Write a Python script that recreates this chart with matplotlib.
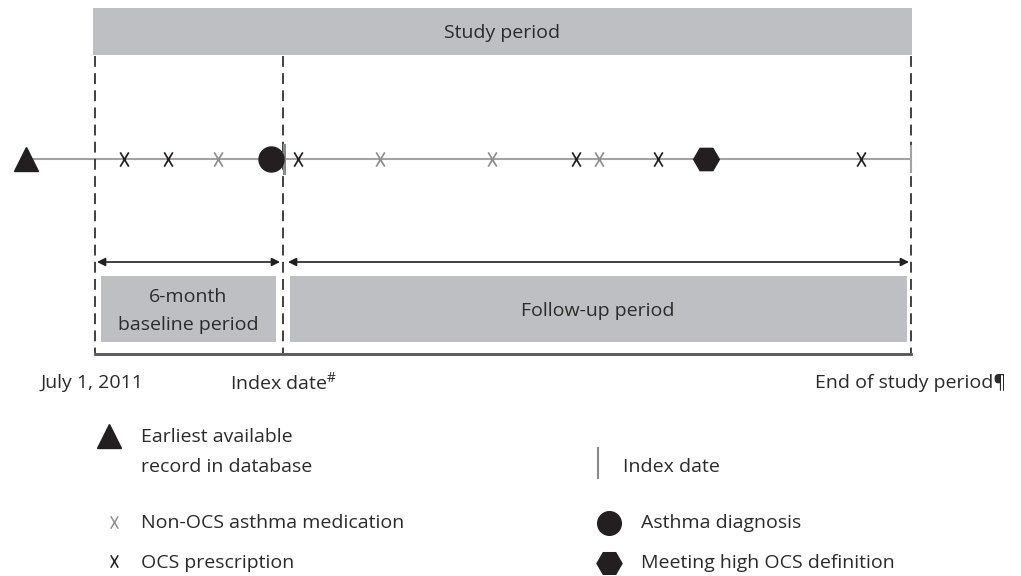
import matplotlib
matplotlib.use("Agg")
import matplotlib.pyplot as plt
from matplotlib.path import Path
from matplotlib.patches import Rectangle

plt.rcParams['font.family'] = ['Open Sans', 'DejaVu Sans']
plt.rcParams['mathtext.fontset'] = 'custom'
plt.rcParams['mathtext.rm'] = 'Open Sans'
plt.rcParams['mathtext.it'] = 'Open Sans'

# timeline events (x position along the timeline, in pixels of the 1021 px wide figure)
start_x = 26
diagnosis_x = 271
index_x = 284
high_ocs_x = 706
end_x = 911
ocs_x = [124, 168, 298, 576, 658, 861]
non_ocs_x = [218, 380, 492, 599]

# period boundaries
study_start = 95
baseline_label = ["6-month", "baseline period"]
followup_label = "Follow-up period"
date_labels = ["July 1, 2011", r"Index date$^{\#}$", "End of study period\u00b6"]

legend_left = ["Earliest available", "record in database", "Non-OCS asthma medication", "OCS prescription"]
legend_right = ["Index date", "Asthma diagnosis", "Meeting high OCS definition"]

BOX = '#bebfc3'
DARK = '#231f20'
LIGHT = '#8f8f8f'
LINE = '#a3a3a3'
TXT = '#2b2b2b'
FS = 14
DY = 2.5  # small downward nudge so text centres match

# narrow X glyph as marker
xmark = Path([(-0.3, -0.5), (0.3, 0.5), (-0.3, 0.5), (0.3, -0.5)],
             [Path.MOVETO, Path.LINETO, Path.MOVETO, Path.LINETO])

fig = plt.figure(figsize=(10.21, 5.76), dpi=100)
ax = fig.add_axes([0, 0, 1, 1])
ax.set_xlim(0, 1021)
ax.set_ylim(576, 0)
ax.axis('off')


def label(x, y, s, ha='left'):
    ax.text(x, y + DY, s, ha=ha, va='center', fontsize=FS, color=TXT)


ty = 159

# study period box
ax.add_patch(Rectangle((93, 8), end_x - 93 + 1, 47, color=BOX, lw=0))
label((93 + end_x) / 2, 31, "Study period", ha='center')

# dashed boundaries
for x in [study_start, index_x - 1, end_x]:
    ax.plot([x, x], [56, 353], color='#333333', lw=1.3, ls=(0, (6, 3.5)))

# timeline
ax.plot([start_x, end_x], [ty, ty], color=LINE, lw=1.5, zorder=1)
ax.plot([index_x, index_x], [145, 173], color='#8a8a8a', lw=2.2, zorder=3)
ax.plot([end_x, end_x], [146, 172], color=LINE, lw=1.5, zorder=3)
ax.plot(start_x, ty, marker='^', ms=17, color=DARK, zorder=4)
ax.plot(diagnosis_x, ty, marker='o', ms=18, color=DARK, zorder=4)
ax.plot(high_ocs_x, ty, marker='H', ms=18.5, color=DARK, zorder=4)
ax.scatter(ocs_x, [ty] * len(ocs_x), marker=xmark, s=105, color=DARK, lw=1.25, zorder=4)
ax.scatter(non_ocs_x, [ty] * len(non_ocs_x), marker=xmark, s=105, color=LIGHT, lw=1.25, zorder=4)

# arrows
arr = dict(arrowstyle='<|-|>', color=DARK, lw=1.2, mutation_scale=12, shrinkA=0, shrinkB=0)
ax.annotate('', xy=(97, 262), xytext=(280, 262), arrowprops=arr)
ax.annotate('', xy=(288, 262), xytext=(909, 262), arrowprops=arr)

# period boxes
ax.add_patch(Rectangle((101, 276), 175, 66, color=BOX, lw=0))
ax.add_patch(Rectangle((290, 276), 617, 66, color=BOX, lw=0))
label(188, 294, baseline_label[0], ha='center')
label(188, 322, baseline_label[1], ha='center')
label(598, 308, followup_label, ha='center')

ax.plot([study_start, end_x], [354, 354], color='#555555', lw=2)

# date labels
label(40, 380, date_labels[0])
label(230, 380, date_labels[1])
label(1006, 380, date_labels[2], ha='right')

# legend, left column
ax.plot(109, 436, marker='^', ms=17, color=DARK)
label(141, 435, legend_left[0])
label(141, 464, legend_left[1])
ax.scatter([114], [522], marker=xmark, s=80, color=LIGHT, lw=1.1)
label(141, 521, legend_left[2])
ax.scatter([114], [561], marker=xmark, s=80, color=DARK, lw=1.1)
label(141, 560, legend_left[3])

# legend, right column
ax.plot([598, 598], [448, 478], color='#8a8a8a', lw=1.5)
label(623, 464, legend_right[0])
ax.plot(609, 523, marker='o', ms=17, color=DARK)
label(641, 521, legend_right[1])
ax.plot(609, 563, marker='H', ms=18, color=DARK)
label(641, 560, legend_right[2])

fig.savefig('out.png', dpi=100)
